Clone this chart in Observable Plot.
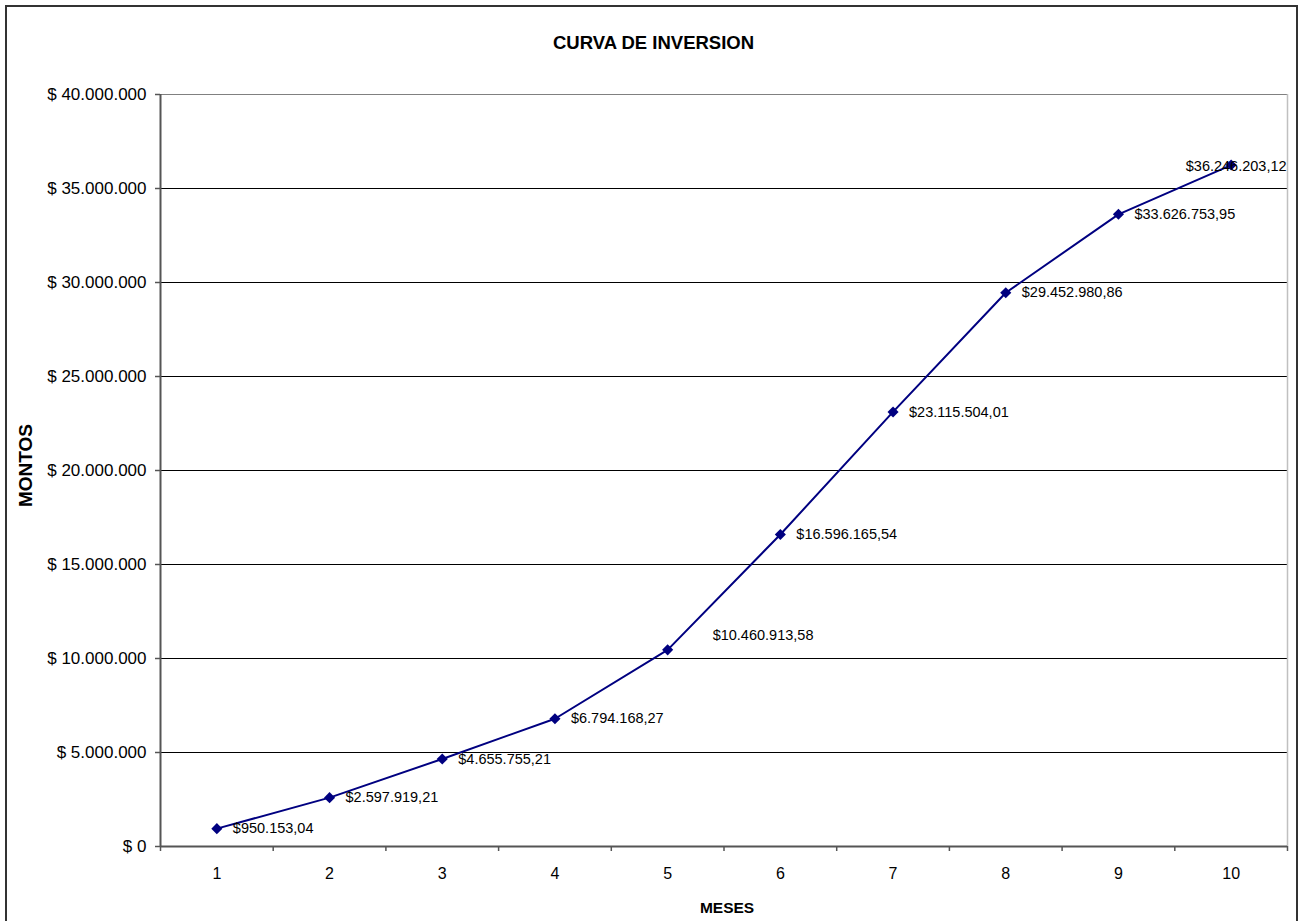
<!DOCTYPE html>
<html>
<head>
<meta charset="utf-8">
<script src="https://cdn.jsdelivr.net/npm/d3@7"></script>
<script src="https://cdn.jsdelivr.net/npm/@observablehq/plot@0.6"></script>
<style>
  html, body { margin: 0; padding: 0; overflow: hidden; background: #fff; width: 1301px; height: 921px; }
  #frame { position: absolute; left: 5px; top: 5px; width: 1293px; height: 960px; border: 2px solid #333; box-sizing: border-box; }
  #chart { position: absolute; left: 0; top: 0; }
  #title { position: absolute; left: 3px; top: 34px; width: 1301px; text-align: center;
           font: bold 18.5px "Liberation Sans", Arial, sans-serif; line-height: 18.5px; color: #000; }
</style>
</head>
<body>
<div id="frame"></div>
<div id="title">CURVA DE INVERSION</div>
<div id="chart"></div>
<script>
const meses = [1, 2, 3, 4, 5, 6, 7, 8, 9, 10];
const montos = [950153.04, 2597919.21, 4655755.21, 6794168.27, 10460913.58,
                16596165.54, 23115504.01, 29452980.86, 33626753.95, 36246203.12];
const yTicks = [0, 5000000, 10000000, 15000000, 20000000, 25000000, 30000000, 35000000, 40000000];
const xLabel = "MESES";
const yLabel = "MONTOS";

const data = meses.map((m, i) => ({mes: m, monto: montos[i], i}));
const loc = d3.formatLocale({decimal: ",", thousands: ".", grouping: [3], currency: ["$", ""]});
const fmtLabel = loc.format("$,.2f");
const fmtTick = v => "$ " + loc.format(",.0f")(v);

const font = '"Liberation Sans", Arial, sans-serif';
const navy = "#000080";
const axisGray = "#555";

const normal = data.filter(d => d.i !== 4 && d.i !== 9);
const lbl5 = data.filter(d => d.i === 4);
const lbl10 = data.filter(d => d.i === 9);

const chart = Plot.plot({
  width: 1301,
  height: 921,
  marginLeft: 160,
  marginRight: 14,
  marginTop: 94,
  marginBottom: 75,
  style: {fontFamily: font, background: "transparent", color: "#000"},
  x: {type: "linear", domain: [0.5, 10.5], axis: null},
  y: {domain: [0, 40000000], axis: null},
  marks: [
    Plot.ruleY(yTicks.slice(1, -1), {stroke: "#000", strokeWidth: 1}),
    Plot.ruleY([40000000], {stroke: "#808080", strokeWidth: 1.2}),
    Plot.ruleX([10.5], {stroke: "#c0c0c0", strokeWidth: 1.5}),
    Plot.axisY({ticks: yTicks, tickFormat: fmtTick, tickSize: 5, tickPadding: 9,
                fontSize: 17, stroke: axisGray, strokeWidth: 1.5, label: null}),
    Plot.axisX({ticks: meses, tickFormat: d => String(d), tickSize: 0, tickPadding: 21,
                fontSize: 16, label: null}),
    Plot.axisX({ticks: meses.map(m => m - 0.5).concat([10.5]), tickFormat: () => "", tickSize: 5,
                stroke: axisGray, strokeWidth: 1.5, label: null}),
    Plot.ruleX([0.5], {stroke: axisGray, strokeWidth: 2}),
    Plot.ruleY([0], {stroke: axisGray, strokeWidth: 2}),
    Plot.line(data, {x: "mes", y: "monto", stroke: navy, strokeWidth: 2}),
    Plot.dot(data, {x: "mes", y: "monto", symbol: "diamond2", r: 5, fill: navy}),
    Plot.text(normal, {x: "mes", y: "monto", text: d => fmtLabel(d.monto), dx: 16, textAnchor: "start",
                       fontSize: 14.5, fill: "#000"}),
    Plot.text(lbl5, {x: "mes", y: "monto", text: d => fmtLabel(d.monto), dx: 45, dy: -14, textAnchor: "start",
                     fontSize: 14.5, fill: "#000"}),
    Plot.text(lbl10, {x: "mes", y: "monto", text: d => fmtLabel(d.monto), dx: 5, dy: 1, textAnchor: "middle",
                      fontSize: 14.5, fill: "#000"}),
    Plot.text([xLabel], {frameAnchor: "bottom", dx: 3, dy: 66, lineAnchor: "bottom", textAnchor: "middle",
                         fontSize: 15.5, fontWeight: "bold", fill: "#000"}),
    Plot.text([yLabel], {frameAnchor: "left", dx: -135, dy: -5, rotate: -90, textAnchor: "middle",
                         lineAnchor: "middle", fontSize: 19, fontWeight: "bold", fill: "#000"})
  ]
});
document.getElementById("chart").appendChild(chart);
</script>
</body>
</html>
